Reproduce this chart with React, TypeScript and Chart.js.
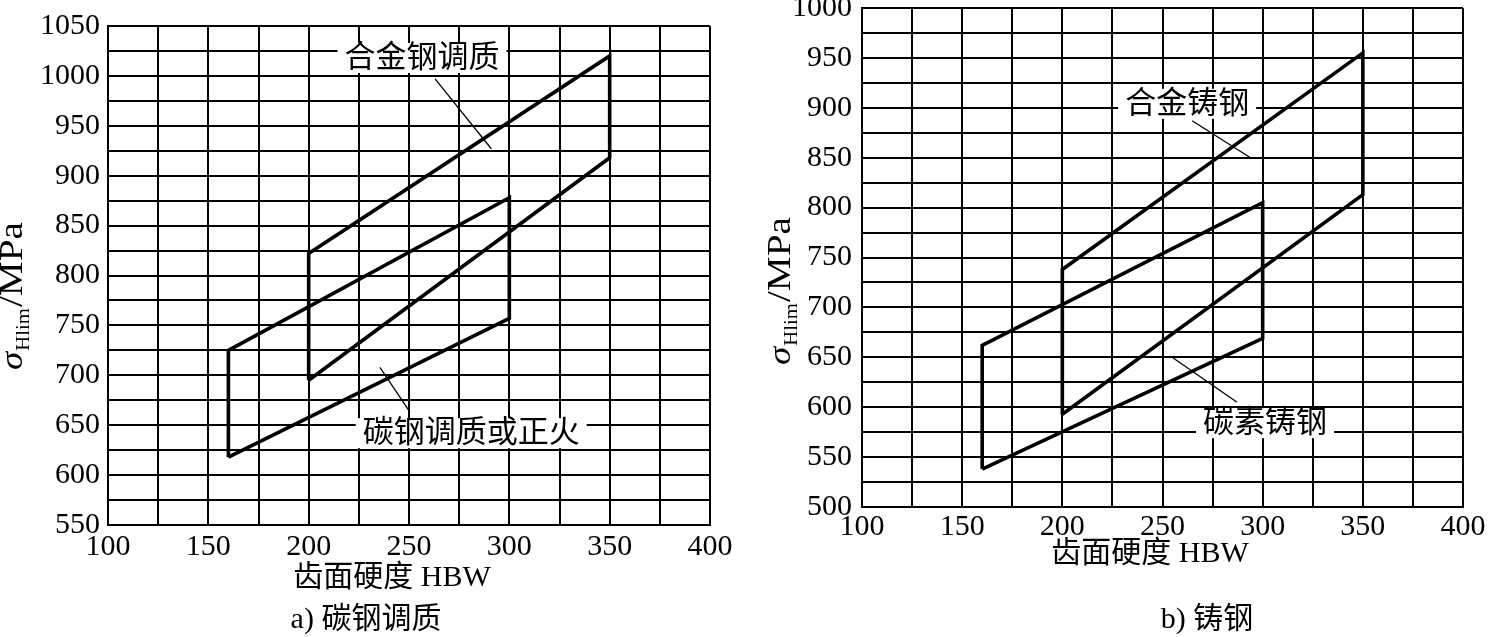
import React, { useEffect, useRef } from "react";
import { Chart, registerables } from "chart.js";

Chart.register(...registerables);

// ---------- shared axis data ----------
const hbwMin = 100;
const hbwMax = 400;
const hbwStep = 25;
const hbwTickLabels = [100, 150, 200, 250, 300, 350, 400];

// ---------- panel a) 碳钢调质 ----------
const mpaMinA = 550;
const mpaMaxA = 1050;
const mpaTickLabelsA = [550, 600, 650, 700, 750, 800, 850, 900, 950, 1000, 1050];
const alloyA_hbw = [200, 200, 350, 350, 200];
const alloyA_mpa = [695, 822, 1020, 918, 695];
const carbonA_hbw = [160, 160, 300, 300, 160];
const carbonA_mpa = [618, 725, 878, 757, 618];
const leaderAlloyA_hbw = [263, 291];
const leaderAlloyA_mpa = [997, 927];
const leaderCarbonA_hbw = [235.5, 250.5];
const leaderCarbonA_mpa = [708, 663];
const labelTextsA = ["合金钢调质", "碳钢调质或正火"];
const labelHbwA = [256.5, 281];
const labelMpaA = [1018, 642];

// ---------- panel b) 铸钢 ----------
const mpaMinB = 500;
const mpaMaxB = 1000;
const mpaTickLabelsB = [500, 550, 600, 650, 700, 750, 800, 850, 900, 950, 1000];
const alloyB_hbw = [200, 200, 350, 350, 200];
const alloyB_mpa = [593, 738, 955, 813, 593];
const carbonB_hbw = [160, 160, 300, 300, 160];
const carbonB_mpa = [538, 662, 805, 669, 538];
const leaderAlloyB_hbw = [264.8, 294.7];
const leaderAlloyB_mpa = [887, 849];
const leaderCarbonB_hbw = [254.8, 287.2];
const leaderCarbonB_mpa = [650, 605];
const labelTextsB = ["合金铸钢", "碳素铸钢"];
const labelHbwB = [262.3, 301.2];
const labelMpaB = [904, 584];

const xTitle = "齿面硬度 HBW";
const captionA = "a) 碳钢调质";
const captionB = "b) 铸钢";

const SERIF = '"Liberation Serif", "Times New Roman", "Noto Sans CJK SC", serif';
const CJK = '"Liberation Serif", "Noto Sans CJK SC", sans-serif';

type Pt = { x: number; y: number };
const toPts = (xs: number[], ys: number[]): Pt[] => xs.map((x, i) => ({ x, y: ys[i] }));

interface PanelSpec {
  yMin: number;
  yMax: number;
  yTickLabels: number[];
  outlines: { x: number[]; y: number[] }[];
  leaders: { x: number[]; y: number[] }[];
  labelTexts: string[];
  labelX: number[];
  labelY: number[];
  caption: string;
  width: number;
  height: number;
  yAxisWidth: number;
  xAxisHeight: number;
  padTop: number;
  padRight: number;
  yTickPad: number;
  xTickPad: number;
  yTitleX: number;
  yTitleY: number;
  xTitleX: number;
  xTitleY: number;
  captionX: number;
  captionY: number;
}

function drawYTitle(ctx: CanvasRenderingContext2D, x: number, y: number) {
  ctx.save();
  ctx.translate(x, y);
  ctx.rotate(-Math.PI / 2);
  ctx.scale(1.15, 1);
  ctx.fillStyle = "#000";
  ctx.textAlign = "left";
  ctx.textBaseline = "alphabetic";
  ctx.font = `italic 32px ${SERIF}`;
  ctx.fillText("σ", 0, 0);
  let w = ctx.measureText("σ").width + 1;
  ctx.font = `18px ${SERIF}`;
  ctx.fillText("Hlim", w, 7);
  w += ctx.measureText("Hlim").width + 1;
  ctx.font = `34px ${SERIF}`;
  ctx.fillText("/MPa", w, 0);
  ctx.restore();
}

function makePlugin(p: PanelSpec) {
  return {
    id: "panelText",
    beforeDatasetsDraw(chart: any) {
      const ctx: CanvasRenderingContext2D = chart.ctx;
      const xs = chart.scales.x;
      const ys = chart.scales.y;
      ctx.save();
      ctx.font = `31px ${CJK}`;
      ctx.textAlign = "center";
      ctx.textBaseline = "middle";
      p.labelTexts.forEach((t, i) => {
        const cx = xs.getPixelForValue(p.labelX[i]);
        const cy = ys.getPixelForValue(p.labelY[i]);
        const w = ctx.measureText(t).width + 14;
        ctx.fillStyle = "#fff";
        ctx.fillRect(cx - w / 2, cy - 15, w, 30);
        ctx.fillStyle = "#000";
        ctx.fillText(t, cx, cy + 1);
      });
      ctx.restore();
    },
    afterDraw(chart: any) {
      const ctx: CanvasRenderingContext2D = chart.ctx;
      ctx.save();
      ctx.fillStyle = "#000";
      ctx.textAlign = "center";
      ctx.textBaseline = "middle";
      ctx.font = `30px ${CJK}`;
      ctx.fillText(xTitle, p.xTitleX, p.xTitleY);
      ctx.fillText(p.caption, p.captionX, p.captionY);
      ctx.restore();
      drawYTitle(ctx, p.yTitleX, p.yTitleY);
    },
  };
}

function buildConfig(p: PanelSpec): any {
  const datasets = [
    ...p.outlines.map((o) => ({
      data: toPts(o.x, o.y),
      showLine: true,
      borderColor: "#000",
      borderWidth: 3.6,
      pointRadius: 0,
      fill: false,
      tension: 0,
      borderJoinStyle: "miter",
    })),
    ...p.leaders.map((o) => ({
      data: toPts(o.x, o.y),
      showLine: true,
      borderColor: "#000",
      borderWidth: 1.3,
      pointRadius: 0,
      fill: false,
      tension: 0,
    })),
  ];
  const tickFont = { family: SERIF, size: 30 };
  return {
    type: "scatter",
    data: { datasets },
    options: {
      animation: false,
      responsive: false,
      maintainAspectRatio: false,
      events: [],
      layout: { padding: { top: p.padTop, right: p.padRight, left: 0, bottom: 0 } },
      plugins: { legend: { display: false }, tooltip: { enabled: false } },
      scales: {
        x: {
          type: "linear",
          position: "bottom",
          min: hbwMin,
          max: hbwMax,
          afterFit: (s: any) => {
            s.height = p.xAxisHeight;
          },
          ticks: {
            stepSize: hbwStep,
            autoSkip: false,
            maxRotation: 0,
            minRotation: 0,
            padding: p.xTickPad,
            color: "#000",
            font: tickFont,
            callback: (v: number) => (hbwTickLabels.includes(v) ? String(v) : ""),
          },
          grid: { color: "#000", lineWidth: 2, drawTicks: false },
          border: { color: "#000", width: 2 },
        },
        y: {
          type: "linear",
          position: "left",
          min: p.yMin,
          max: p.yMax,
          afterFit: (s: any) => {
            s.width = p.yAxisWidth;
          },
          ticks: {
            stepSize: 25,
            autoSkip: false,
            padding: p.yTickPad,
            color: "#000",
            font: tickFont,
            callback: (v: number) => (p.yTickLabels.includes(v) ? String(v) : ""),
          },
          grid: { color: "#000", lineWidth: 2, drawTicks: false },
          border: { color: "#000", width: 2 },
        },
      },
    },
    plugins: [makePlugin(p)],
  };
}

const panelA: PanelSpec = {
  yMin: mpaMinA,
  yMax: mpaMaxA,
  yTickLabels: mpaTickLabelsA,
  outlines: [
    { x: alloyA_hbw, y: alloyA_mpa },
    { x: carbonA_hbw, y: carbonA_mpa },
  ],
  leaders: [
    { x: leaderAlloyA_hbw, y: leaderAlloyA_mpa },
    { x: leaderCarbonA_hbw, y: leaderCarbonA_mpa },
  ],
  labelTexts: labelTextsA,
  labelX: labelHbwA,
  labelY: labelMpaA,
  caption: captionA,
  width: 745,
  height: 637,
  yAxisWidth: 108,
  xAxisHeight: 112,
  padTop: 25,
  padRight: 35,
  yTickPad: 8,
  xTickPad: 4,
  yTitleX: 22,
  yTitleY: 370,
  xTitleX: 392,
  xTitleY: 578,
  captionX: 366,
  captionY: 620,
};

const panelB: PanelSpec = {
  yMin: mpaMinB,
  yMax: mpaMaxB,
  yTickLabels: mpaTickLabelsB,
  outlines: [
    { x: alloyB_hbw, y: alloyB_mpa },
    { x: carbonB_hbw, y: carbonB_mpa },
  ],
  leaders: [
    { x: leaderAlloyB_hbw, y: leaderAlloyB_mpa },
    { x: leaderCarbonB_hbw, y: leaderCarbonB_mpa },
  ],
  labelTexts: labelTextsB,
  labelX: labelHbwB,
  labelY: labelMpaB,
  caption: captionB,
  width: 744,
  height: 657,
  yAxisWidth: 117,
  xAxisHeight: 130,
  padTop: 27,
  padRight: 26,
  yTickPad: 10,
  xTickPad: 2,
  yTitleX: 45,
  yTitleY: 385,
  xTitleX: 405,
  xTitleY: 574,
  captionX: 462,
  captionY: 640,
};

function Panel({ spec, left, top }: { spec: PanelSpec; left: number; top: number }) {
  const ref = useRef<HTMLCanvasElement | null>(null);
  useEffect(() => {
    if (!ref.current) return;
    const chart = new Chart(ref.current, buildConfig(spec));
    return () => chart.destroy();
  }, [spec]);
  return (
    <canvas
      ref={ref}
      width={spec.width}
      height={spec.height}
      style={{ position: "absolute", left, top, width: spec.width, height: spec.height }}
    />
  );
}

export default function App() {
  return (
    <div
      style={{
        position: "absolute",
        left: 0,
        top: 0,
        width: 1489,
        height: 637,
        overflow: "hidden",
        background: "#fff",
      }}
    >
      <Panel spec={panelA} left={0} top={0} />
      <Panel spec={panelB} left={745} top={-20} />
    </div>
  );
}
